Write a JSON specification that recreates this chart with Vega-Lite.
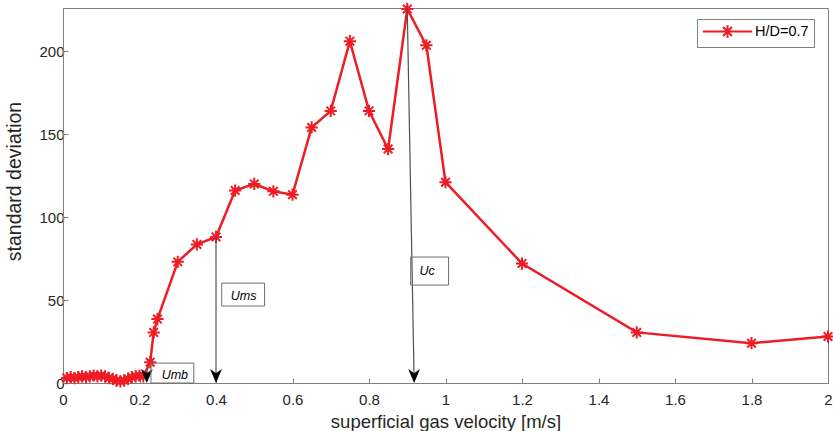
{
  "$schema": "https://vega.github.io/schema/vega-lite/v6.json",
  "width": 765,
  "height": 375,
  "autosize": {"type": "none"},
  "padding": {"left": 63, "top": 8, "right": 5, "bottom": 48},
  "background": "white",
  "config": {
    "font": "Liberation Sans",
    "view": {"stroke": "#808080", "strokeWidth": 1},
    "axis": {
      "grid": false,
      "domainColor": "#808080",
      "tickColor": "#808080",
      "tickSize": -5,
      "labelColor": "#262626",
      "titleColor": "#262626",
      "labelFontSize": 15,
      "titleFontWeight": "normal",
      "labelFlush": false
    }
  },
  "datasets": {
    "main": [
      {"v": 0.01, "sd": 3.0, "s": "H/D=0.7"},
      {"v": 0.02, "sd": 3.5, "s": "H/D=0.7"},
      {"v": 0.03, "sd": 3.0, "s": "H/D=0.7"},
      {"v": 0.04, "sd": 3.5, "s": "H/D=0.7"},
      {"v": 0.05, "sd": 4.0, "s": "H/D=0.7"},
      {"v": 0.06, "sd": 3.5, "s": "H/D=0.7"},
      {"v": 0.07, "sd": 4.0, "s": "H/D=0.7"},
      {"v": 0.08, "sd": 4.5, "s": "H/D=0.7"},
      {"v": 0.09, "sd": 4.0, "s": "H/D=0.7"},
      {"v": 0.10, "sd": 4.5, "s": "H/D=0.7"},
      {"v": 0.11, "sd": 4.0, "s": "H/D=0.7"},
      {"v": 0.12, "sd": 3.0, "s": "H/D=0.7"},
      {"v": 0.13, "sd": 2.5, "s": "H/D=0.7"},
      {"v": 0.14, "sd": 1.5, "s": "H/D=0.7"},
      {"v": 0.15, "sd": 1.0, "s": "H/D=0.7"},
      {"v": 0.16, "sd": 1.5, "s": "H/D=0.7"},
      {"v": 0.17, "sd": 2.5, "s": "H/D=0.7"},
      {"v": 0.18, "sd": 3.5, "s": "H/D=0.7"},
      {"v": 0.19, "sd": 4.0, "s": "H/D=0.7"},
      {"v": 0.20, "sd": 4.5, "s": "H/D=0.7"},
      {"v": 0.21, "sd": 4.0, "s": "H/D=0.7"},
      {"v": 0.228, "sd": 12.5, "s": "H/D=0.7"},
      {"v": 0.237, "sd": 30.5, "s": "H/D=0.7"},
      {"v": 0.247, "sd": 38.5, "s": "H/D=0.7"},
      {"v": 0.3, "sd": 73, "s": "H/D=0.7"},
      {"v": 0.35, "sd": 83.5, "s": "H/D=0.7"},
      {"v": 0.4, "sd": 88, "s": "H/D=0.7"},
      {"v": 0.45, "sd": 116, "s": "H/D=0.7"},
      {"v": 0.5, "sd": 120, "s": "H/D=0.7"},
      {"v": 0.55, "sd": 115.5, "s": "H/D=0.7"},
      {"v": 0.6, "sd": 113.5, "s": "H/D=0.7"},
      {"v": 0.65, "sd": 154, "s": "H/D=0.7"},
      {"v": 0.7, "sd": 164, "s": "H/D=0.7"},
      {"v": 0.75, "sd": 206, "s": "H/D=0.7"},
      {"v": 0.8, "sd": 164, "s": "H/D=0.7"},
      {"v": 0.85, "sd": 141, "s": "H/D=0.7"},
      {"v": 0.9, "sd": 225.4, "s": "H/D=0.7"},
      {"v": 0.95, "sd": 203.5, "s": "H/D=0.7"},
      {"v": 1.0, "sd": 121, "s": "H/D=0.7"},
      {"v": 1.2, "sd": 72, "s": "H/D=0.7"},
      {"v": 1.5, "sd": 30.5, "s": "H/D=0.7"},
      {"v": 1.8, "sd": 24, "s": "H/D=0.7"},
      {"v": 2.0, "sd": 28, "s": "H/D=0.7"}
    ],
    "arrows": [
      {"v": 0.219, "sd": 9, "v2": 0.219, "sd2": 1},
      {"v": 0.4, "sd": 88, "v2": 0.4, "sd2": 1},
      {"v": 0.9, "sd": 225.4, "v2": 0.918, "sd2": 1}
    ],
    "heads": [
      {"v": 0.219, "sd": 0},
      {"v": 0.4, "sd": 0},
      {"v": 0.918, "sd": 0}
    ],
    "boxes": [
      {"v": 0.23, "sd": 0, "v2": 0.342, "sd2": 12, "t": "Umb", "tv": 0.258, "tsd": 4.8},
      {"v": 0.415, "sd": 46.4, "v2": 0.527, "sd2": 60.2, "t": "Ums", "tv": 0.4386, "tsd": 52.4},
      {"v": 0.909, "sd": 59, "v2": 1.008, "sd2": 75.9, "t": "Uc", "tv": 0.932, "tsd": 67.5}
    ]
  },
  "layer": [
    {
      "data": {"name": "main"},
      "mark": {"type": "line", "strokeWidth": 2.5},
      "encoding": {
        "x": {
          "field": "v", "type": "quantitative",
          "scale": {"domain": [0, 2], "nice": false, "zero": false},
          "axis": {"title": "superficial gas velocity [m/s]", "titleFontSize": 18.5, "values": [0, 0.2, 0.4, 0.6, 0.8, 1, 1.2, 1.4, 1.6, 1.8, 2], "format": "~g", "labelPadding": 14, "titlePadding": 5}
        },
        "y": {
          "field": "sd", "type": "quantitative",
          "scale": {"domain": [0, 226], "nice": false},
          "axis": {"title": "standard deviation", "titleFontSize": 19.5, "values": [0, 50, 100, 150, 200], "labelPadding": 4, "titlePadding": 14, "titleY": 173}
        },
        "color": {
          "field": "s", "type": "nominal",
          "scale": {"range": ["#ee1c25"]},
          "legend": {
            "title": null,
            "orient": "none",
            "legendX": 634,
            "legendY": 11,
            "padding": 5,
            "strokeColor": "#808080",
            "fillColor": "white",
            "symbolType": "M-3.9,0L3.9,0M0,-1L0,1M-0.7,-0.7L0.7,0.7M-0.7,0.7L0.7,-0.7",
            "symbolSize": 160,
            "symbolStrokeWidth": 2,
            "symbolStrokeColor": "#ee1c25",
            "symbolFillColor": "transparent",
            "symbolOffset": 18,
            "labelOffset": 20,
            "labelFontSize": 14.5,
            "labelColor": "#000000"
          }
        }
      }
    },
    {
      "data": {"name": "main"},
      "mark": {
        "type": "point",
        "shape": "M-1,0L1,0M0,-1L0,1M-0.7,-0.7L0.7,0.7M-0.7,0.7L0.7,-0.7",
        "filled": false,
        "color": "#ee1c25",
        "strokeWidth": 2,
        "size": 150,
        "opacity": 1
      },
      "encoding": {
        "x": {"field": "v", "type": "quantitative"},
        "y": {"field": "sd", "type": "quantitative"}
      }
    },
    {
      "data": {"name": "arrows"},
      "mark": {"type": "rule", "color": "#505050", "strokeWidth": 1.2},
      "encoding": {
        "x": {"field": "v", "type": "quantitative"},
        "y": {"field": "sd", "type": "quantitative"},
        "x2": {"field": "v2"},
        "y2": {"field": "sd2"}
      }
    },
    {
      "data": {"name": "heads"},
      "mark": {
        "type": "point",
        "shape": "M0,0L-0.85,-2L0,-1.4L0.85,-2Z",
        "filled": true,
        "color": "#000000",
        "size": 196,
        "opacity": 1
      },
      "encoding": {
        "x": {"field": "v", "type": "quantitative"},
        "y": {"field": "sd", "type": "quantitative"}
      }
    },
    {
      "data": {"name": "boxes"},
      "mark": {"type": "rect", "filled": false, "stroke": "#6e6e6e", "strokeWidth": 1},
      "encoding": {
        "x": {"field": "v", "type": "quantitative"},
        "y": {"field": "sd", "type": "quantitative"},
        "x2": {"field": "v2"},
        "y2": {"field": "sd2"}
      }
    },
    {
      "data": {"name": "boxes"},
      "mark": {"type": "text", "align": "left", "baseline": "middle", "fontStyle": "italic", "fontSize": 12.5, "color": "#000000"},
      "encoding": {
        "x": {"field": "tv", "type": "quantitative"},
        "y": {"field": "tsd", "type": "quantitative"},
        "text": {"field": "t"}
      }
    }
  ]
}
